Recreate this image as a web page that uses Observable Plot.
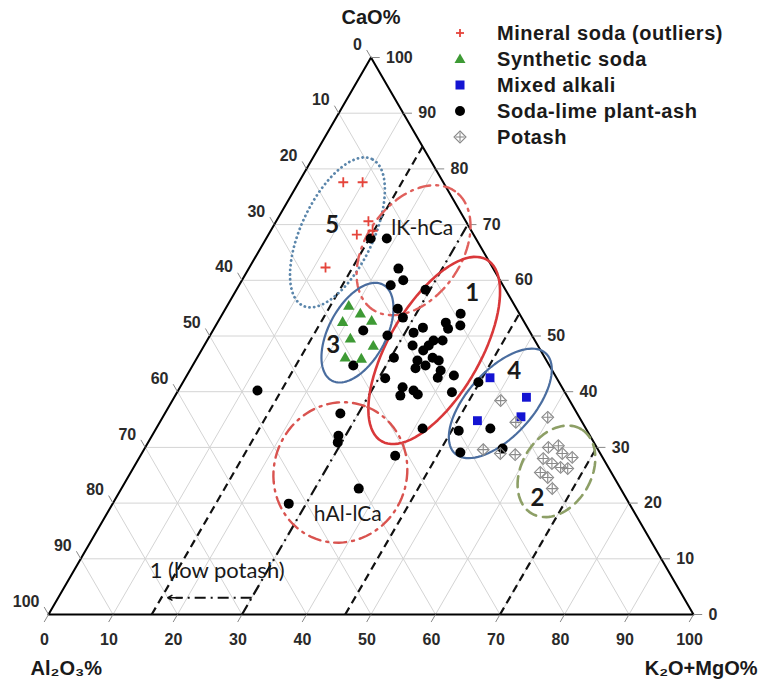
<!DOCTYPE html>
<html><head><meta charset="utf-8">
<script src="https://cdn.jsdelivr.net/npm/d3@7"></script>
<script src="https://cdn.jsdelivr.net/npm/@observablehq/plot@0.6"></script>
<style>
body{margin:0;background:#fff;}
#wrap{position:relative;width:760px;height:684px;}
#legend{position:absolute;left:450px;top:20px;font:bold 20px "Liberation Sans",Arial,sans-serif;color:#1a1a1a;letter-spacing:0.55px;}
.row{display:flex;align-items:center;height:26px;white-space:nowrap;}
.row svg{width:20px;height:20px;margin-right:27px;flex:none;}
</style></head><body><div id="wrap"><div id="legend"></div></div>
<script>
// ---- Data (ternary values, %): CaO and K2O+MgO; Al2O3 = 100 - CaO - K2O+MgO ----
const tickValues = [0,10,20,30,40,50,60,70,80,90,100];

const mineralCaO = [77.6, 77.6, 70.6, 68.9, 68.2, 62.3];
const mineralK   = [6.9, 9.9, 14.3, 15.8, 13.7, 11.8];

const syntheticCaO = [55.3, 53.9, 52.4, 52.6, 49.4, 48.1, 46.0, 45.8];
const syntheticK   = [18.9, 21.4, 19.4, 23.8, 22.1, 26.3, 23.0, 25.6];

const mixedCaO = [42.5, 39.0, 34.8, 35.5];
const mixedK   = [47.2, 54.6, 49.1, 55.5];

const plantCaO = [67.5,67.5,62.1,60.0,59.1,58.3,51.0,54.9,53.3,54.0,51.9,52.4,51.3,51.5,50.6,50.1,49.2,49.2,48.3,47.4,46.1,45.6,45.6,44.2,43.8,42.5,46.1,42.4,40.8,39.3,40.2,39.5,42.9,39.9,44.7,41.7,33.0,33.4,29.1,29.8,33.4,28.5,40.2,36.1,32.1,30.9,22.6,19.9,48.3,44.7];
const plantK   = [16.2,18.7,23.2,25.0,23.5,29.3,23.3,26.7,28.3,36.9,37.9,35.4,36.3,32.3,31.3,27.5,35.1,36.5,32.3,34.4,36.5,34.4,37.7,34.8,38.9,39.1,30.5,31.0,34.5,34.9,36.5,37.5,41.4,42.6,24.9,45.8,47.1,51.8,49.3,55.5,41.3,39.5,12.3,27.2,28.9,29.4,36.8,27.3,34.8,36.1];

const potashCaO = [38.4,34.5,35.4,29.6,28.9,28.7,30.0,30.3,28.9,28.2,28.0,27.1,26.4,25.5,24.6,26.2,22.6];
const potashK   = [50.9,55.2,59.7,52.6,55.6,58.0,62.5,63.9,65.2,67.1,62.7,64.5,66.2,63.5,65.1,67.4,66.8];

// K2O+MgO values of the discriminating lines
const dashedLinesK = [16, 46, 70];
const dashDotLineK = 30;
const lowPotashArrow = {cao: 3, kFrom: 30, kTo: 17};

// Ellipses: centre (CaO, K2O+MgO), semi-axes (% units), tilt (deg)
const ellipseNames = ["5", "lK-hCa", "1", "3", "4", "2", "hAl-lCa"];
const ellipseCaO   = [68.6, 65.4, 47.4, 50.6, 37.9, 25.7, 25.5];
const ellipseK     = [10.5, 23.9, 36.1, 22.6, 51.1, 65.9, 32.5];
const ellipseA     = [12.6, 11.2, 16.3, 8.45, 10.5, 7.6, 11.0];
const ellipseB     = [5.6, 7.4, 7.1, 4.45, 5.1, 5.4, 10.3];
const ellipseTilt  = [65, 55, 60, 62, 48, 60, 70];

// Annotation labels
const labelText = ["5", "lK-hCa", "1", "3", "4", "2", "hAl-lCa", "1 (low potash)"];
const labelCaO  = [69.8, 69.3, 57.6, 48.3, 43.6, 20.8, 18.0, 7.9];
const labelK    = [9.1, 23.3, 36.9, 20.0, 50.4, 65.4, 37.4, 22.2];

const legendLabels = ["Mineral soda (outliers)", "Synthetic soda", "Mixed alkali", "Soda-lime plant-ash", "Potash"];

// ---- Geometry helpers ----
const S3 = Math.sqrt(3) / 2;
const P = (c, k) => ({x: k + c / 2, y: c * S3});
const pts = (cs, ks) => cs.map((c, i) => P(c, ks[i]));

const FONT = "Liberation Sans, Arial, sans-serif";
const LFONT = "Lato, Carlito, sans-serif";

// grid
const grid = [];
for (const v of tickValues.slice(1, -1)) {
  const a = P(v, 0), b = P(v, 100 - v); grid.push({x1: a.x, y1: a.y, x2: b.x, y2: b.y});
  const c = P(0, v), d = P(100 - v, v); grid.push({x1: c.x, y1: c.y, x2: d.x, y2: d.y});
  const e = P(0, 100 - v), f = P(100 - v, 0); grid.push({x1: e.x, y1: e.y, x2: f.x, y2: f.y});
}
const outline = [P(0, 0), P(0, 100), P(100, 0)];

const TL = 1.35;
const rightTicks = tickValues.map(v => { const p = P(v, 100 - v); return {x1: p.x, y1: p.y, x2: p.x + TL, y2: p.y, t: String(v)}; });
const leftTicks = tickValues.map(v => { const p = P(100 - v, 0); return {x1: p.x, y1: p.y, x2: p.x - TL * 0.5, y2: p.y + TL * S3, t: String(v)}; });
const bottomTicks = tickValues.map(v => { const p = P(0, v); return {x1: p.x, y1: p.y, x2: p.x - TL * 0.5, y2: p.y - TL * S3, t: String(v)}; });

const dashed = dashedLinesK.map(k => { const a = P(0, k), b = P(100 - k, k); return {x1: a.x, y1: a.y, x2: b.x, y2: b.y}; });
const dd = (() => { const a = P(0, dashDotLineK), b = P(100 - dashDotLineK, dashDotLineK); return [{x1: a.x, y1: a.y, x2: b.x, y2: b.y}]; })();
const arrowLine = (() => { const a = P(lowPotashArrow.cao, lowPotashArrow.kFrom), b = P(lowPotashArrow.cao, lowPotashArrow.kTo + 1.2); return [{x1: a.x, y1: a.y, x2: b.x, y2: b.y}]; })();
const arrowHead = (() => { const a = P(lowPotashArrow.cao, lowPotashArrow.kTo + 2.2), b = P(lowPotashArrow.cao, lowPotashArrow.kTo); return [{x1: a.x, y1: a.y, x2: b.x, y2: b.y}]; })();

function ellipse(i) {
  const c0 = P(ellipseCaO[i], ellipseK[i]);
  const th = ellipseTilt[i] * Math.PI / 180, a = ellipseA[i], b = ellipseB[i];
  const out = [];
  for (let d = 0; d < 360; d += 4) {
    const t = d * Math.PI / 180;
    out.push({x: c0.x + a * Math.cos(t) * Math.cos(th) - b * Math.sin(t) * Math.sin(th),
              y: c0.y + a * Math.cos(t) * Math.sin(th) + b * Math.sin(t) * Math.cos(th)});
  }
  return out;
}
const ellipseStyle = [
  {stroke: "#5b86ab", strokeWidth: 2.8, strokeDasharray: "0.1,4.6", strokeLinecap: "round"},
  {stroke: "#e0605c", strokeWidth: 2.4, strokeDasharray: "12,6,2,6"},
  {stroke: "#d9383a", strokeWidth: 2.6},
  {stroke: "#4a6d9f", strokeWidth: 2.2},
  {stroke: "#4a6d9f", strokeWidth: 2.2},
  {stroke: "#8d9f66", strokeWidth: 2.6, strokeDasharray: "11,7"},
  {stroke: "#d9534f", strokeWidth: 2.4, strokeDasharray: "12,6,2,6"}
];

const labels = labelText.map((t, i) => ({...P(labelCaO[i], labelK[i]), t}));
const numLabels = labels.filter(d => /^\d$/.test(d.t));
const wordLabels = labels.filter(d => !/^\d$/.test(d.t) && d.t.length < 10);
const longLabels = labels.filter(d => d.t.length >= 10);

const plot = Plot.plot({
  width: 760, height: 684, margin: 0,
  x: {type: "linear", domain: [0, 100], range: [48, 693], axis: null},
  y: {type: "linear", domain: [0, 100 * S3], range: [614, 57], axis: null},
  style: {background: "white", fontFamily: FONT},
  marks: [
    Plot.link(grid, {x1: "x1", y1: "y1", x2: "x2", y2: "y2", stroke: "#d4d4d4", strokeWidth: 1}),
    Plot.line(outline, {x: "x", y: "y", curve: "linear-closed", stroke: "#000", strokeWidth: 2}),
    Plot.link(rightTicks, {x1: "x1", y1: "y1", x2: "x2", y2: "y2", stroke: "#888", strokeWidth: 1}),
    Plot.link(leftTicks, {x1: "x1", y1: "y1", x2: "x2", y2: "y2", stroke: "#888", strokeWidth: 1}),
    Plot.link(bottomTicks, {x1: "x1", y1: "y1", x2: "x2", y2: "y2", stroke: "#888", strokeWidth: 1}),
    Plot.text(rightTicks, {x: "x1", y: "y1", text: "t", textAnchor: "start", dx: 15, fontSize: 16, fontWeight: "bold", fill: "#2a2a2a"}),
    Plot.text(leftTicks, {x: "x1", y: "y1", text: "t", textAnchor: "end", dx: -9, dy: -13, fontSize: 16, fontWeight: "bold", fill: "#2a2a2a"}),
    Plot.text(bottomTicks, {x: "x1", y: "y1", text: "t", textAnchor: "middle", dx: -4, dy: 25, fontSize: 16, fontWeight: "bold", fill: "#2a2a2a"}),
    Plot.link(dashed, {x1: "x1", y1: "y1", x2: "x2", y2: "y2", stroke: "#111", strokeWidth: 2.2, strokeDasharray: "8,5"}),
    Plot.link(dd, {x1: "x1", y1: "y1", x2: "x2", y2: "y2", stroke: "#111", strokeWidth: 2.2, strokeDasharray: "11,5,2,5"}),
    Plot.link(arrowLine, {x1: "x1", y1: "y1", x2: "x2", y2: "y2", stroke: "#111", strokeWidth: 2, strokeDasharray: "11,5,2,5"}),
    Plot.arrow(arrowHead, {x1: "x1", y1: "y1", x2: "x2", y2: "y2", stroke: "#111", strokeWidth: 1.6, headLength: 9}),
    ...ellipseNames.map((n, i) => Plot.line(ellipse(i), {x: "x", y: "y", curve: "linear-closed", ...ellipseStyle[i]})),
    Plot.dot(pts(plantCaO, plantK), {x: "x", y: "y", symbol: "circle", fill: "#000", r: 5}),
    Plot.dot(pts(syntheticCaO, syntheticK), {x: "x", y: "y", symbol: "triangle", fill: "#3e9a35", r: 4.2}),
    Plot.dot(pts(mixedCaO, mixedK), {x: "x", y: "y", symbol: "square", fill: "#1414d2", r: 5}),
    Plot.dot(pts(potashCaO, potashK), {x: "x", y: "y", symbol: "diamond2", stroke: "#8a8a8a", strokeWidth: 1.1, r: 5.3}),
    Plot.dot(pts(potashCaO, potashK), {x: "x", y: "y", symbol: "plus", stroke: "#8a8a8a", strokeWidth: 1.1, r: 3.3}),
    Plot.dot(pts(mineralCaO, mineralK), {x: "x", y: "y", symbol: "plus", stroke: "#e5443b", strokeWidth: 1.8, r: 3.3}),
    Plot.text(numLabels, {x: "x", y: "y", text: "t", fontSize: 24, fontWeight: "bold", fontFamily: LFONT, fill: "#1a1a1a"}),
    Plot.text(wordLabels, {x: "x", y: "y", text: "t", fontSize: 21, fontFamily: LFONT, fill: "#1a1a1a"}),
    Plot.text(longLabels, {x: "x", y: "y", text: "t", fontSize: 22, fontFamily: LFONT, fill: "#1a1a1a"}),
    Plot.text([P(100, 0)], {x: "x", y: "y", text: () => "CaO%", dy: -40, fontSize: 20, fontWeight: "bold", fill: "#1a1a1a"}),
    Plot.text([P(0, 0)], {x: "x", y: "y", text: () => "Al\u2082O\u2083%", textAnchor: "start", dx: -18, dy: 54, fontSize: 20, fontWeight: "bold", fill: "#1a1a1a"}),
    Plot.text([P(0, 100)], {x: "x", y: "y", text: () => "K\u2082O+MgO%", textAnchor: "end", dx: 64, dy: 54, fontSize: 20, fontWeight: "bold", fill: "#1a1a1a"})
  ]
});
const wrap = document.getElementById("wrap");
wrap.insertBefore(plot, wrap.firstChild);

// Legend
const symbols = [
  '<line x1="6" y1="10" x2="14" y2="10" stroke="#e5443b" stroke-width="1.8"/><line x1="10" y1="6" x2="10" y2="14" stroke="#e5443b" stroke-width="1.8"/>',
  '<path d="M10,4.5 L15.5,14 L4.5,14 Z" fill="#3e9a35"/>',
  '<rect x="5.5" y="5.5" width="9" height="9" fill="#1414d2"/>',
  '<circle cx="10" cy="10" r="5" fill="#000"/>',
  '<path d="M10,4 L16,10 L10,16 L4,10 Z" fill="none" stroke="#8a8a8a" stroke-width="1.1"/><line x1="5.5" y1="10" x2="14.5" y2="10" stroke="#8a8a8a" stroke-width="1.1"/><line x1="10" y1="5.5" x2="10" y2="14.5" stroke="#8a8a8a" stroke-width="1.1"/>'
];
document.getElementById("legend").innerHTML = legendLabels.map((l, i) =>
  `<div class="row"><svg viewBox="0 0 20 20">${symbols[i]}</svg><span>${l}</span></div>`).join("");
</script>
</body></html>
